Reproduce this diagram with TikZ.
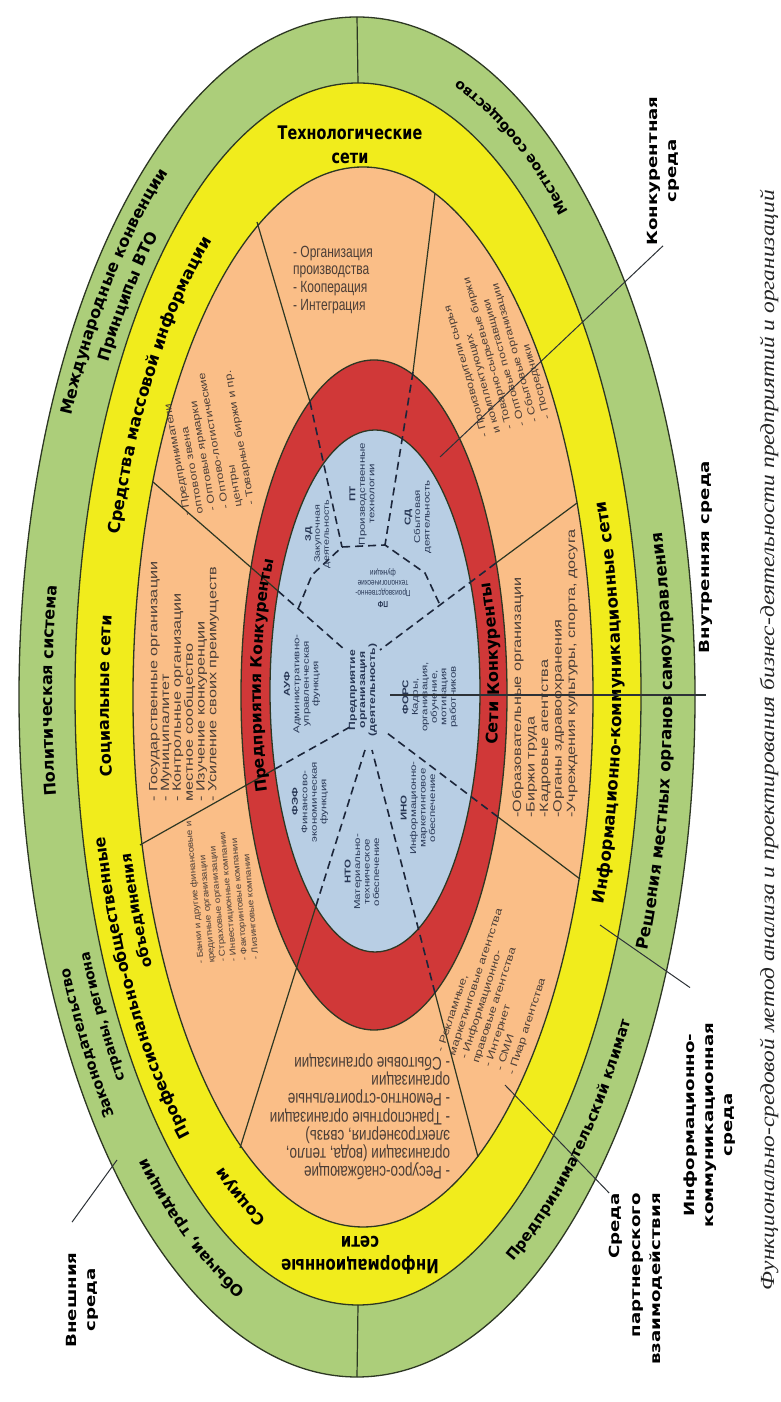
\documentclass[tikz,border=0pt]{standalone}
\usepackage{fontspec}
\usepackage{graphicx}
\setmainfont{Liberation Sans}
\newfontfamily\dvb{DejaVu Sans}
\newfontfamily\capf{Liberation Serif}
\usetikzlibrary{decorations.text,calc}
\definecolor{cgreen}{RGB}{172,206,122}
\definecolor{cyellow}{RGB}{241,236,28}
\definecolor{corange}{RGB}{250,190,135}
\definecolor{cred}{RGB}{208,56,56}
\definecolor{cblue}{RGB}{184,206,228}
\definecolor{cline}{RGB}{45,55,35}
\definecolor{ctext}{RGB}{75,62,55}
\definecolor{cbtext}{RGB}{40,55,85}
\definecolor{cdash}{RGB}{28,38,58}
\definecolor{cptr}{RGB}{45,50,55}
\newcommand\rfb[2]{\fontsize{#1}{#2}\selectfont\dvb\bfseries\lineskiplimit=-20pt\relax}
\newcommand\cfs[2]{\fontsize{#1}{#2}\selectfont\lineskiplimit=-20pt\relax}
\tikzset{
  ring/.style={draw=cline, line width=1.3pt},
  solidline/.style={draw=cline, line width=1.2pt},
  dashline/.style={draw=cdash, line width=1.6pt, dash pattern=on 8pt off 5pt},
  rlab/.style={decorate, decoration={text along path, text align=center, raise=-5.5pt, text={#1}}},
  sect/.style={text=ctext, align=left, inner sep=0pt},
  btext/.style={text=cbtext, align=center, inner sep=0pt},
  lbl/.style={align=center, inner sep=0pt, font=\rfb{14}{19}},
  ptr/.style={draw=cptr, line width=1pt},
  ptrthick/.style={draw=cptr, line width=2.4pt}
}
\begin{document}
\begin{tikzpicture}[x=1pt,y=1pt]
\useasboundingbox (0,0) rectangle (780,1402);
\fill[white] (0,0) rectangle (780,1402);

% rings
\draw[ring, fill=cgreen]  (357,705) ellipse[x radius=338, y radius=680];
\draw[ring, fill=cyellow] (358,708) ellipse[x radius=283, y radius=611];
\draw[ring, fill=corange] (363,705) ellipse[x radius=230, y radius=530];
\draw[ring, fill=cred]    (374,707) ellipse[x radius=133, y radius=335];
\draw[ring, fill=cblue]   (375,711) ellipse[x radius=105, y radius=261];

% green ring dividers
\coordinate (gt1) at (357,1385); \coordinate (gt2) at (358,1319);
\coordinate (gb1) at (357,25);   \coordinate (gb2) at (358,97);
\draw[solidline] (gt1) -- (gt2);
\draw[solidline] (gb1) -- (gb2);

% sector dividers
\coordinate (o1) at (257,1180); \coordinate (r1) at (310,1000); \coordinate (e1) at (342,855);
\coordinate (o2) at (435,1209); \coordinate (r2) at (413,1030); \coordinate (e2) at (385,857);
\coordinate (o3) at (577,899);  \coordinate (r3) at (496,839);  \coordinate (e3) at (380,752);
\coordinate (o4) at (580,523);  \coordinate (r4) at (498,585);  \coordinate (e4) at (387,669);
\coordinate (o5) at (478,245);  \coordinate (r5) at (435,409);  \coordinate (e5) at (372,652);
\coordinate (o6) at (240,254);  \coordinate (b6) at (316,496);  \coordinate (e6) at (365,652);
\coordinate (o7) at (140,557);  \coordinate (b7) at (275,633);  \coordinate (e7) at (350,675);
\coordinate (o8) at (153,920);  \coordinate (b8) at (278,811);  \coordinate (e8) at (345,752);
\foreach \i in {1,...,5} {\draw[solidline] (o\i) -- (r\i); \draw[dashline] (r\i) -- (e\i);}
\foreach \i in {6,7,8} {\draw[solidline] (o\i) -- (b\i); \draw[dashline] (b\i) -- (e\i);}
\coordinate (pf1) at (298,793); \coordinate (pf2) at (312,827);
\coordinate (pf5) at (425,829); \coordinate (pf6) at (440,797);
\draw[dashline] (pf1) -- (pf2) -- (e1) -- (e2) -- (pf5) -- (pf6);

% green ring labels
\path[rlab={|\rfb{16}{16}|Международные конвенции}] ([shift={(357,706)}]159:322 and 658) arc[start angle=159, end angle=121, x radius=322, y radius=658];
\path[rlab={|\rfb{16}{16}|Принципы ВТО}] ([shift={(357,706)}]152.5:299 and 633) arc[start angle=152.5, end angle=127.5, x radius=299, y radius=633];
\path[rlab={|\rfb{16}{16}|Политическая система}] ([shift={(357,706)}]193.5:310 and 645) arc[start angle=193.5, end angle=165.5, x radius=310, y radius=645];
\path[rlab={|\rfb{14.5}{14.5}|Законодательство}] ([shift={(357,706)}]224:322 and 658) arc[start angle=224, end angle=201, x radius=322, y radius=658];
\path[rlab={|\rfb{14}{14}|страны, региона}] ([shift={(357,706)}]222:299 and 633) arc[start angle=222, end angle=200, x radius=299, y radius=633];
\path[rlab={|\rfb{15.5}{15.5}|Обычаи, традиции}] ([shift={(357,706)}]254:310 and 645) arc[start angle=254, end angle=222, x radius=310, y radius=645];
\path[rlab={|\rfb{15}{15}|Предпринимательский климат}] ([shift={(357,706)}]-67.5:310 and 645) arc[start angle=-67.5, end angle=-25.5, x radius=310, y radius=645];
\path[rlab={|\rfb{16.5}{16.5}|Решения местных органов самоуправления}] ([shift={(357,706)}]-33.5:310 and 645) arc[start angle=-33.5, end angle=24.5, x radius=310, y radius=645];
\path[rlab={|\rfb{14}{14}|Местное сообщество}] ([shift={(357,706)}]43.5:310 and 645) arc[start angle=43.5, end angle=78.5, x radius=310, y radius=645];

% yellow ring labels
\path[rlab={|\rfb{16.5}{16.5}|Средства массовой информации}] ([shift={(360,706)}]172.5:256 and 570) arc[start angle=172.5, end angle=112.5, x radius=256, y radius=570];
\path[rlab={|\rfb{16}{16}|Социальные сети}] ([shift={(360,706)}]192.5:256 and 570) arc[start angle=192.5, end angle=167.5, x radius=256, y radius=570];
\path[rlab={|\rfb{16}{16}|Профессионально-общественные}] ([shift={(360,706)}]238:268 and 582) arc[start angle=238, end angle=188, x radius=268, y radius=582];
\path[rlab={|\rfb{15}{15}|объединения}] ([shift={(360,706)}]213:244 and 558) arc[start angle=213, end angle=193, x radius=244, y radius=558];
\path[rlab={|\rfb{16}{16}|Социум}] ([shift={(360,706)}]252.5:256 and 570) arc[start angle=252.5, end angle=232.5, x radius=256, y radius=570];
\path[rlab={|\rfb{16.5}{16.5}|Информационно-коммуникационные сети}] ([shift={(360,706)}]-30.75:256 and 570) arc[start angle=-30.75, end angle=29.25, x radius=256, y radius=570];
\node[lbl, font=\rfb{14.4}{18}, yscale=1.3] (tech) at (350,1257) {Технологические\\сети};
\node[lbl, font=\rfb{15}{18}, rotate=180, yscale=1.3] (infs) at (360,147) {Информационные\\сети};

% red ring labels
\path[rlab={|\rfb{15.5}{15.5}|Предприятия Конкуренты}] ([shift={(374.5,709)}]211:119 and 298) arc[start angle=211, end angle=141, x radius=119, y radius=298];
\path[rlab={|\rfb{16}{16}|Сети Конкуренты}] ([shift={(374.5,709)}]-19.8:119 and 298) arc[start angle=-19.8, end angle=32.2, x radius=119, y radius=298];

% orange sector texts
\node[sect, font=\cfs{12}{13.3}, yscale=1.35] (s1) at (333,1122) {- Организация\\производства\\- Кооперация\\- Интеграция};
\node[sect, font=\cfs{10}{13}, rotate=106, xscale=1.25] (s2) at (495,1050) {- Производители сырья\\и комплектующих\\- Товарно-сырьевые биржи\\- Оптовые поставщики\\- Сбытовые организации\\- Посредники};
\node[sect, font=\cfs{12}{13.5}, rotate=90, xscale=1.35, anchor=west] (s3) at (545,584) {-Образовательные организации\\-Биржи труда\\-Кадровые агентства\\-Органы здравоохранения\\-Учреждения культуры, спорта, досуга};
\node[sect, font=\cfs{10}{12.5}, rotate=72, xscale=1.3] (s4) at (500,412) {- Рекламные,\\маркетинговые агентства\\- Информационно-\\правовые агентства\\- Интернет\\- СМИ\\- Пиар агентства};
\node[sect, font=\cfs{13.5}{13.5}, rotate=180, yscale=1.35] (s5) at (360,285) {- Ресурсо-снабжающие\\организации (вода, тепло,\\электроэнергия, связь)\\- Транспортные организации\\- Ремонтно-строительные\\организации\\- Сбытовые организации};
\node[sect, font=\cfs{8.5}{11}, rotate=95, xscale=1.15, anchor=west] (s6) at (228,440) {- Банки и другие финансовые и\\кредитные организации\\- Страховые организации\\- Инвестиционные компании\\- Факторинговые компании\\- Лизинговые компании};
\node[sect, font=\cfs{12}{11.8}, rotate=90, xscale=1.35, anchor=west] (s7) at (184,600) {- Государственные организации\\- Муниципалитет\\- Контрольные организации\\местное сообщество\\- Изучение конкуренции\\- Усиление своих преимуществ};
\node[sect, font=\cfs{10}{13}, rotate=100, xscale=1.25] (s8) at (208,960) {- Предприниматели\\оптового звена\\- Оптовые ярмарки\\- Оптово-логистические\\центры\\- Товарные биржи и пр.};

% blue texts
\node[btext, font=\cfs{8}{9}, rotate=90, xscale=1.35] (zd) at (318,868) {\textbf{ЗД}\\Закупочная\\деятельность};
\node[btext, font=\cfs{8.5}{9.5}, rotate=90, xscale=1.35] (pt) at (362,908) {\textbf{ПТ}\\Производственные\\технологии};
\node[btext, font=\cfs{8.5}{9.5}, rotate=90, xscale=1.35] (sd) at (418,885) {\textbf{СД}\\Сбытовая\\деятельность};
\node[btext, font=\cfs{6.5}{7.5}, rotate=180, yscale=1.35] (pf) at (383,814) {\textbf{ПФ}\\Производственно-\\технологические\\функции};
\node[btext, font=\cfs{8.5}{9.5}, rotate=90, xscale=1.35] (auf) at (302,718) {\textbf{АУФ}\\Административно-\\управленческая\\функция};
\node[btext, font=\bfseries\cfs{9}{10}, rotate=90, xscale=1.35] (pred) at (363,712) {Предприятие\\организация\\(деятельность)};
\node[btext, font=\cfs{8.5}{9.5}, rotate=90, xscale=1.35] (fors) at (430,705) {\textbf{ФОРС}\\Кадры,\\организация,\\обучение,\\мотивация\\работников};
\node[btext, font=\cfs{8.5}{9.5}, rotate=90, xscale=1.35] (fef) at (310,600) {\textbf{ФЭФ}\\Финансово-\\экономическая\\функция};
\node[btext, font=\cfs{8.5}{9.5}, rotate=90, xscale=1.35] (nto) at (362,530) {\textbf{НТО}\\Материально-\\техническое\\обеспечение};
\node[btext, font=\cfs{8.5}{9.5}, rotate=90, xscale=1.35] (ino) at (418,594) {\textbf{ИНО}\\Информационно-\\маркетинговое\\обеспечение};

% outer labels
\node[lbl, rotate=90, xscale=1.3] (konk) at (663,1231) {Конкурентная\\среда};
\node[lbl, rotate=90, xscale=1.3] (vnutr) at (706,845) {Внутренняя среда};
\node[lbl, rotate=90, xscale=1.3] (ikc) at (710,277) {Информационно-\\коммуникационная\\среда};
\node[lbl, font=\rfb{14}{20.5}, rotate=90, xscale=1.3, align=right, anchor=east] (spv) at (636,209) {Среда\\партнерского\\взаимодействия};
\node[lbl, rotate=90, xscale=1.3] (vnesh) at (82,102) {Внешния\\среда};

% pointers
\coordinate (pk) at (440,945);
\coordinate (pv) at (390,707);
\coordinate (p3) at (600,477);
\coordinate (p4) at (505,317);
\coordinate (p5) at (117,242);
\draw[ptr] (konk.west) -- (pk);
\draw[ptrthick] (pv) -- (pv -| vnutr);
\draw[ptr] ($(ikc.east)+(-20,35)$) -- (p3);
\draw[ptr] (spv.north east) -- (p4);
\draw[ptr] ($(vnesh.east)+(-10,30)$) -- (p5);

% caption
\node[inner sep=0pt, rotate=90, text=black!85] (cap) at (769,662) {\resizebox{1100pt}{\height}{\capf\itshape\fontsize{20}{22}\selectfont Функционально-средовой метод анализа и проектирования бизнес-деятельности предприятий и организаций}};
\end{tikzpicture}
\end{document}
